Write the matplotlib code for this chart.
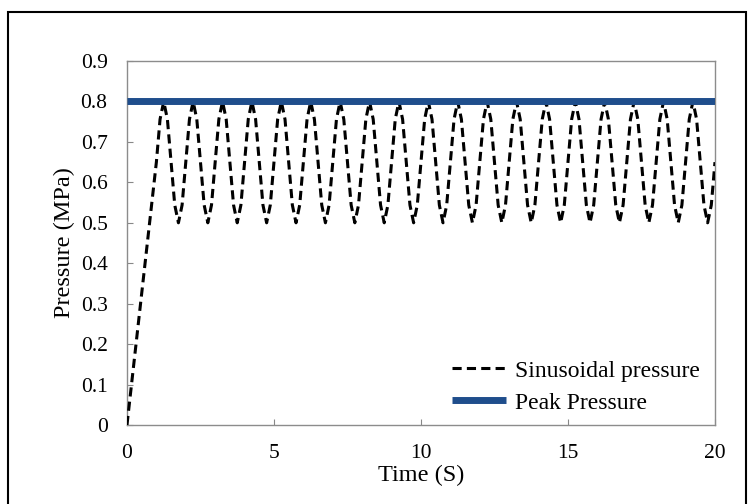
import numpy as np
import matplotlib
matplotlib.use("Agg")
from matplotlib import pyplot as plt
from matplotlib.patches import Rectangle

plt.rcParams['font.family'] = ['Liberation Serif', 'DejaVu Serif']

# sinusoidal pressure, every 0.125 s (MPa), one row per second
time_step = 0.125
sinusoidal = [
    0.000, 0.081, 0.163, 0.244, 0.325, 0.406, 0.488, 0.569,   # 0-1 s ramp
    0.650, 0.756, 0.800, 0.756, 0.650, 0.544, 0.500, 0.544,   # 1
    0.650, 0.756, 0.800, 0.756, 0.650, 0.544, 0.500, 0.544,   # 2
    0.650, 0.756, 0.800, 0.756, 0.650, 0.544, 0.500, 0.544,   # 3
    0.650, 0.756, 0.800, 0.756, 0.650, 0.544, 0.500, 0.544,   # 4
    0.650, 0.756, 0.800, 0.756, 0.650, 0.544, 0.500, 0.544,   # 5
    0.650, 0.756, 0.800, 0.756, 0.650, 0.544, 0.500, 0.544,   # 6
    0.650, 0.756, 0.800, 0.756, 0.650, 0.544, 0.500, 0.544,   # 7
    0.650, 0.756, 0.800, 0.756, 0.650, 0.544, 0.500, 0.544,   # 8
    0.650, 0.756, 0.800, 0.756, 0.650, 0.544, 0.500, 0.544,   # 9
    0.650, 0.756, 0.800, 0.756, 0.650, 0.544, 0.500, 0.544,   # 10
    0.650, 0.756, 0.800, 0.756, 0.650, 0.544, 0.500, 0.544,   # 11
    0.650, 0.756, 0.800, 0.756, 0.650, 0.544, 0.500, 0.544,   # 12
    0.650, 0.756, 0.800, 0.756, 0.650, 0.544, 0.500, 0.544,   # 13
    0.650, 0.756, 0.800, 0.756, 0.650, 0.544, 0.500, 0.544,   # 14
    0.650, 0.756, 0.800, 0.756, 0.650, 0.544, 0.500, 0.544,   # 15
    0.650, 0.756, 0.800, 0.756, 0.650, 0.544, 0.500, 0.544,   # 16
    0.650, 0.756, 0.800, 0.756, 0.650, 0.544, 0.500, 0.544,   # 17
    0.650, 0.756, 0.800, 0.756, 0.650, 0.544, 0.500, 0.544,   # 18
    0.650, 0.756, 0.800, 0.756, 0.650, 0.544, 0.500, 0.544,   # 19
    0.650,                                                    # 20
]
peak_time = [0, 20]
peak_pressure = [0.8, 0.8]

x_ticks = [0, 5, 10, 15, 20]
y_ticks = [0, 0.1, 0.2, 0.3, 0.4, 0.5, 0.6, 0.7, 0.8, 0.9]
y_labels = ["0", "0.1", "0.2", "0.3", "0.4", "0.5", "0.6", "0.7", "0.8", "0.9"]

t = np.arange(len(sinusoidal)) * time_step

fig = plt.figure(figsize=(7.5, 5.04), dpi=100)
ax = fig.add_axes([0.1693, 0.1567, 0.784, 0.7222])

ax.plot(t, sinusoidal, color="black", lw=2.2, dashes=(3.0, 1.7),
        label="Sinusoidal pressure", zorder=3)
ax.plot(peak_time, peak_pressure, color="#1f4e8c", lw=5,
        solid_capstyle="butt", label="Peak Pressure", zorder=4)

ax.set_xlim(0, 20)
ax.set_ylim(0, 0.9)
ax.set_xticks(x_ticks)
ax.set_xticklabels([str(v) for v in x_ticks])
ax.set_yticks(y_ticks)
ax.set_yticklabels(y_labels)
ax.tick_params(direction="in", length=4, width=0.8, color="#888888",
               labelsize=15.5)
ax.tick_params(axis="x", pad=14)
ax.tick_params(axis="y", pad=14)
for s in ax.spines.values():
    s.set_color("#8c8c8c")
    s.set_linewidth(1.0)

ax.set_xlabel("Time (S)", fontsize=17.5, labelpad=1)
ax.set_ylabel("Pressure (MPa)", fontsize=17.5, labelpad=4)

leg = ax.legend(loc="upper left", bbox_to_anchor=(452 / 750, 1 - 360 / 504),
                bbox_transform=fig.transFigure, frameon=False, fontsize=17,
                handlelength=2.3, handletextpad=0.35, labelspacing=0.45,
                borderpad=0, borderaxespad=0)

# outer frame round the whole picture
fig.patches.append(Rectangle((8 / 750, -0.05), 738 / 750, 1.05 - 12 / 504,
                             transform=fig.transFigure, fill=False,
                             edgecolor="black", lw=1.5))

fig.savefig("out.png", dpi=100)
